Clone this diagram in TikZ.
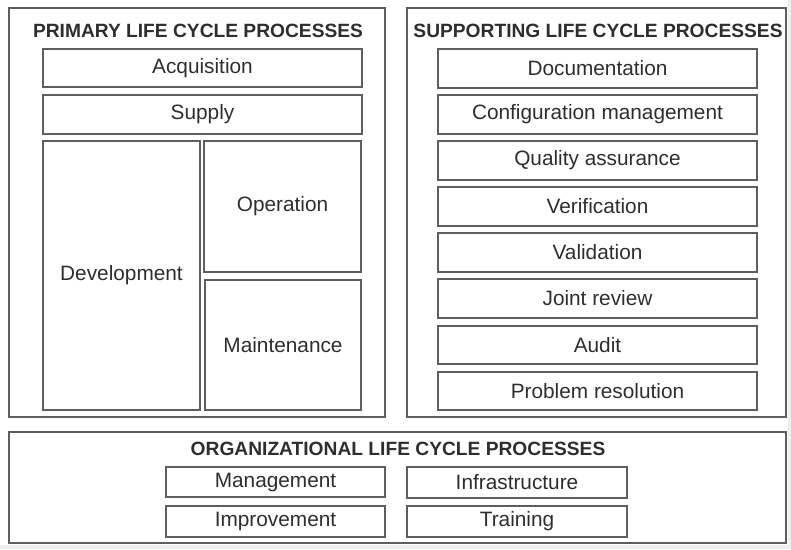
\documentclass[tikz,border=0pt]{standalone}
\usepackage{fontspec}
\setmainfont{Liberation Sans}
\definecolor{edge}{HTML}{5E5E5E}
\definecolor{ink}{HTML}{2E2E2E}
\definecolor{paper}{HTML}{EFEFEF}
\tikzset{
	procbox/.style={draw=edge, line width=1.6pt},
	proclabel/.style={text=ink, font=\fontsize{20.8}{23}\selectfont, inner sep=0pt},
	grouptitle/.style={text=ink, font=\fontsize{19.2}{21}\selectfont\bfseries, inner sep=0pt}
}
% box from (x1,y1) to (x2,y2) with a centred label
\def\procbox(#1)(#2,#3)(#4,#5)#6{
	\draw[procbox] (#2,#3) rectangle (#4,#5);
	\node[proclabel] (#1) at ({(#2+#4)/2},{(#3+#5)/2}) {#6};
}

\begin{document}
\begin{tikzpicture}[x=1pt, y=-1pt]
		%%%%% START %%%%%
		
		\fill[paper] (0, 0) rectangle (791, 549);
		\fill[white] (0, 0) rectangle (788, 545);
		\useasboundingbox (0, 0) rectangle (791, 549);
		
		% primary
		\draw[procbox] (9, 8) rectangle (385, 417);
		\node[grouptitle] (primary) at (198, 31) {PRIMARY LIFE CYCLE PROCESSES};
		\procbox(acq)(43, 49)(362, 87){Acquisition}
		\procbox(sup)(43, 95)(362, 134){Supply}
		\procbox(dev)(43, 141)(200, 410){Development}
		\procbox(op)(204, 141)(361, 272){Operation}
		\procbox(mnt)(205, 280)(361, 410){Maintenance}
		
		% supporting
		\draw[procbox] (407, 8) rectangle (786, 417);
		\node[grouptitle] (supporting) at (598, 31) {SUPPORTING LIFE CYCLE PROCESSES};
		\procbox(doc)(438, 49)(757, 88){Documentation}
		\procbox(cfg)(438, 95)(757, 134){Configuration management}
		\procbox(qa)(438, 141)(757, 180){Quality assurance}
		\procbox(ver)(438, 187)(757, 226){Verification}
		\procbox(val)(438, 233)(757, 272){Validation}
		\procbox(jr)(438, 279)(757, 318){Joint review}
		\procbox(aud)(438, 326)(757, 364){Audit}
		\procbox(pr)(438, 372)(757, 410){Problem resolution}
		
		% organizational
		\draw[procbox] (9, 432) rectangle (786, 543);
		\node[grouptitle] (organizational) at (398, 449) {ORGANIZATIONAL LIFE CYCLE PROCESSES};
		\procbox(mgt)(166, 467)(385, 497){Management}
		\procbox(imp)(166, 506)(385, 537){Improvement}
		\procbox(inf)(407, 467)(627, 498){Infrastructure}
		\procbox(trn)(407, 506)(627, 537){Training}
		
		%%%%% END %%%%%
	\end{tikzpicture}
\end{document}
